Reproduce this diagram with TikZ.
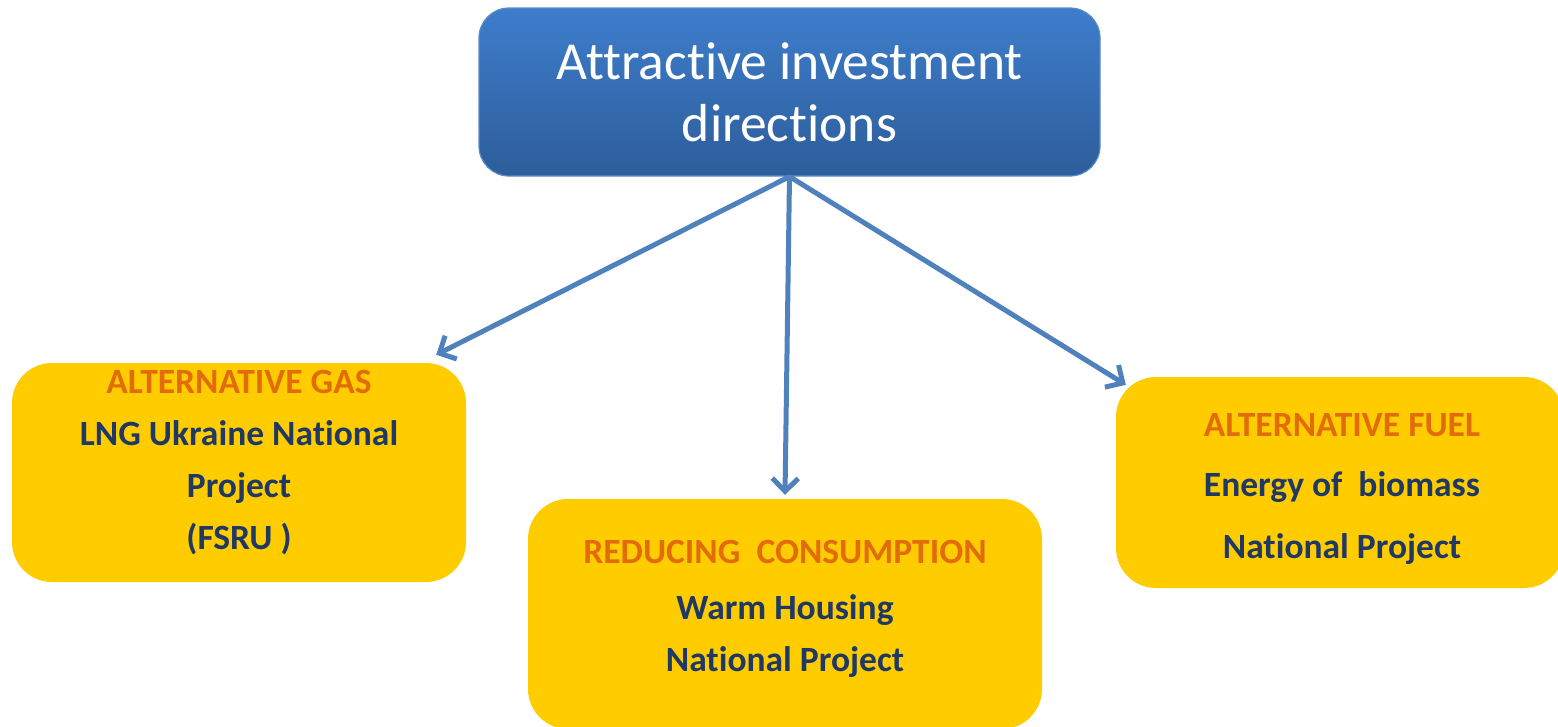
\documentclass[tikz,border=0pt]{standalone}
\usepackage{fontspec}
\setmainfont{Carlito}[Ligatures=NoCommon]
\usetikzlibrary{arrows.meta,positioning}

\definecolor{topblue}{HTML}{3E7DCC}
\definecolor{botblue}{HTML}{2D5D9A}
\definecolor{edgeblue}{HTML}{5A8AC6}
\definecolor{linkblue}{HTML}{4F81BD}
\definecolor{boxyellow}{HTML}{FFCC00}
\definecolor{headorange}{HTML}{E36C0A}
\definecolor{bodynavy}{HTML}{1F3864}

\newcommand{\headline}[1]{{\color{headorange}#1}}

\begin{document}
\begin{tikzpicture}[x=1pt,y=-1pt,
                    topbox/.style={draw=edgeblue,line width=1.2pt,rounded corners=30pt,
                      top color=topblue,bottom color=botblue,text=white,align=center,
                      minimum width=621pt,minimum height=168pt,
                      font=\fontsize{53.5}{62}\selectfont},
                    goalbox/.style={fill=boxyellow,rounded corners=40pt},
                    goaltext/.style={align=center,text=bodynavy,
                      font=\bfseries\fontsize{35.5}{52}\selectfont},
                    link/.style={draw=linkblue,line width=5pt,
                      -{Straight Barb[length=13pt,width=26pt]}}]

  \useasboundingbox (0,0) rectangle (1558,726);
  \clip (0,0) rectangle (1558,726);

  % main node
  \node[topbox] (top) at (789.5,92) {Attractive investment\\directions};

  % three directions
  \node[goalbox,minimum width=454pt,minimum height=219pt] (gas)  at (239,472.5) {};
  \node[goalbox,minimum width=514pt,minimum height=230pt] (cons) at (785,614) {};
  \node[goalbox,minimum width=448pt,minimum height=211pt] (fuel) at (1340,482.5) {};

  \node[goaltext] (gastext) at (239,463)
    {\headline{ALTERNATIVE GAS}\\LNG Ukraine National\\Project\\(FSRU )};
  \node[goaltext] (constext) at (785,609)
    {\headline{REDUCING\ \ CONSUMPTION}\\[4pt]Warm Housing\\National Project};
  \node[goaltext] (fueltext) at (1342,489)
    {\headline{ALTERNATIVE FUEL}\\[8pt]Energy of\ \ biomass\\[10pt]National Project};

  % connectors
  \coordinate (hub)    at (top.south);
  \coordinate (gasin)  at ([shift={(-30pt,8pt)}]gas.north east);
  \coordinate (consin) at ([shift={(0pt,4pt)}]cons.north);
  \coordinate (fuelin) at ([shift={(10pt,-8pt)}]fuel.north west);
  \draw[link] (hub) -- (gasin);
  \draw[link] (hub) -- (consin);
  \draw[link] (hub) -- (fuelin);
\end{tikzpicture}
\end{document}
